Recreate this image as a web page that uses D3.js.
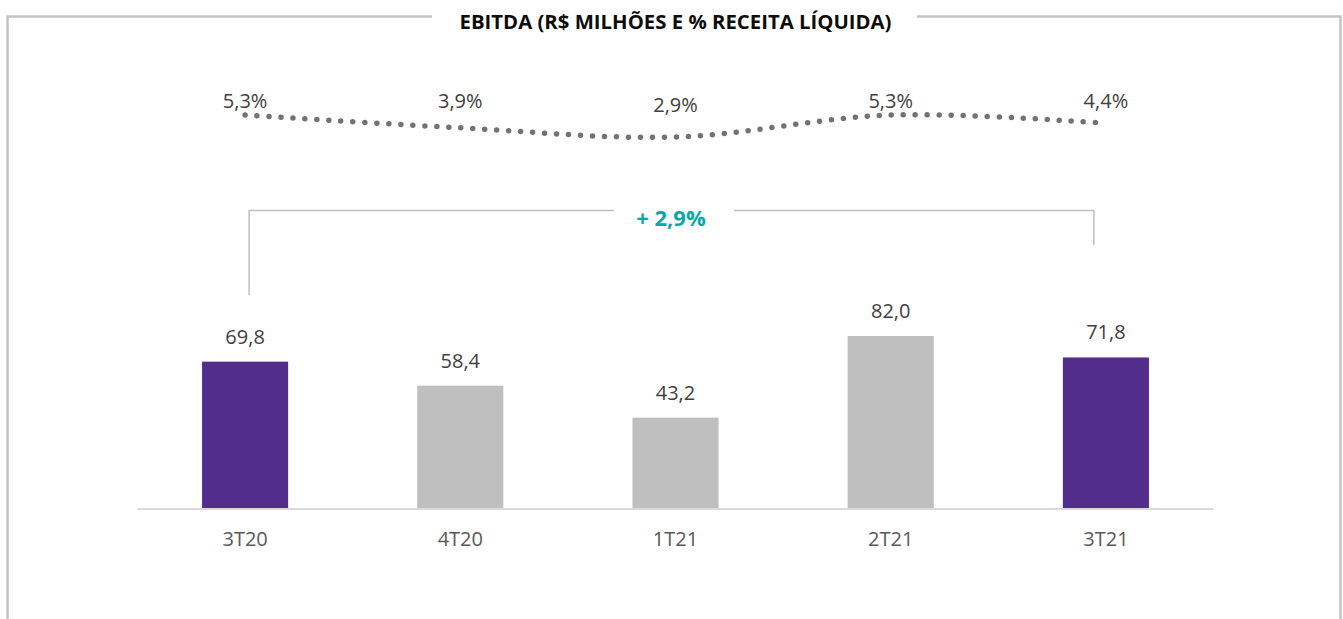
<!DOCTYPE html>
<html>
<head>
<meta charset="utf-8">
<script src="https://cdn.jsdelivr.net/npm/d3@7"></script>
<style>
  body { margin: 0; background: #fff; }
  text { font-family: "Open Sans", sans-serif; }
</style>
</head>
<body>
<div id="chart"></div>
<script>
var quarters = ["3T20", "4T20", "1T21", "2T21", "3T21"];
var ebitda = [69.8, 58.4, 43.2, 82.0, 71.8];
var margem = [5.3, 3.9, 2.9, 5.3, 4.4];
var highlight = ["3T20", "3T21"];
var growthLabel = "+ 2,9%";
var title = "EBITDA (R$ MILHÕES E % RECEITA LÍQUIDA)";

var width = 1343,
    height = 619;

var fmt = function(v) { return d3.format(".1f")(v).replace(".", ","); };

var svg = d3.select("#chart")
            .append("svg")
            .attr("width", width)
            .attr("height", height);

var x = d3.scaleBand()
          .domain(quarters)
          .range([137.5, 1213.5])
          .paddingInner(0.6)
          .paddingOuter(0.3);

var y = d3.scaleLinear()
          .domain([0, 82])
          .range([508.5, 336]);

var yPct = d3.scaleLinear()
             .domain([2.9, 5.3])
             .range([137, 115]);

var cx = function(d) { return x(d) + x.bandwidth() / 2; };

// frame with title gap
var frame = svg.append("g")
  .attr("fill", "none")
  .attr("stroke", "#c3c3c3")
  .attr("stroke-width", 2.5);

frame.append("path").attr("d", "M7.5,619 V16.5 H432");
frame.append("path").attr("d", "M917,16.5 H1340.5 V619");

svg.append("text")
  .attr("x", 675.5)
  .attr("y", 29)
  .attr("text-anchor", "middle")
  .attr("font-weight", "bold")
  .attr("font-size", 19.5)
  .attr("textLength", 432)
  .attr("lengthAdjust", "spacingAndGlyphs")
  .attr("fill", "#0d0d0d")
  .text(title);

// bars
svg.append("g")
  .selectAll("rect")
  .data(ebitda)
  .enter().append("rect")
  .attr("x", function(d, i) { return x(quarters[i]); })
  .attr("width", x.bandwidth())
  .attr("y", function(d) { return y(d); })
  .attr("height", function(d) { return y(0) - y(d); })
  .attr("fill", function(d, i) { return highlight.indexOf(quarters[i]) >= 0 ? "#522d8c" : "#bfbfbf"; });

svg.append("g")
  .selectAll("text")
  .data(ebitda)
  .enter().append("text")
  .attr("x", function(d, i) { return cx(quarters[i]); })
  .attr("y", function(d) { return y(d) - 18; })
  .attr("text-anchor", "middle")
  .attr("font-size", 20)
  .attr("fill", "#404040")
  .text(fmt);

// category axis
var axis = svg.append("g")
  .attr("transform", "translate(0," + y(0) + ")")
  .call(d3.axisBottom(x).tickSize(0).tickPadding(23));

axis.select(".domain")
  .attr("stroke", "#d9d9d9")
  .attr("stroke-width", 1.8)
  .attr("d", "M" + x.range()[0] + ",0.5 H" + x.range()[1]);

axis.selectAll("text")
  .attr("font-family", "Open Sans, sans-serif")
  .attr("font-size", 20)
  .attr("fill", "#595959");

// margin line
var line = d3.line()
  .x(function(d, i) { return cx(quarters[i]); })
  .y(function(d) { return yPct(d); })
  .curve(d3.curveCatmullRom.alpha(0.5));

svg.append("path")
  .datum(margem)
  .attr("d", line)
  .attr("fill", "none")
  .attr("stroke", "#767171")
  .attr("stroke-width", 5.5)
  .attr("stroke-linecap", "round")
  .attr("stroke-dasharray", "0 12");

svg.append("g")
  .selectAll("text")
  .data(margem)
  .enter().append("text")
  .attr("x", function(d, i) { return cx(quarters[i]); })
  .attr("y", function(d) { return Math.max(yPct(d) - 25, 107.5); })
  .attr("text-anchor", "middle")
  .attr("font-size", 20)
  .attr("fill", "#404040")
  .text(function(d) { return fmt(d) + "%"; });

// growth bracket
var bx0 = cx(quarters[0]) + 4,
    bx1 = cx(quarters[quarters.length - 1]) - 12,
    by = 210.5;

var bracket = svg.append("g")
  .attr("fill", "none")
  .attr("stroke", "#bfbfbf")
  .attr("stroke-width", 1.5);

bracket.append("path").attr("d", "M" + bx0 + ",295 V" + by + " H614");
bracket.append("path").attr("d", "M734," + by + " H" + bx1 + " V245");

svg.append("text")
  .attr("x", 671)
  .attr("y", 226)
  .attr("text-anchor", "middle")
  .attr("font-weight", "bold")
  .attr("font-size", 22)
  .attr("fill", "#0aa7a7")
  .text(growthLabel);
</script>
</body>
</html>
